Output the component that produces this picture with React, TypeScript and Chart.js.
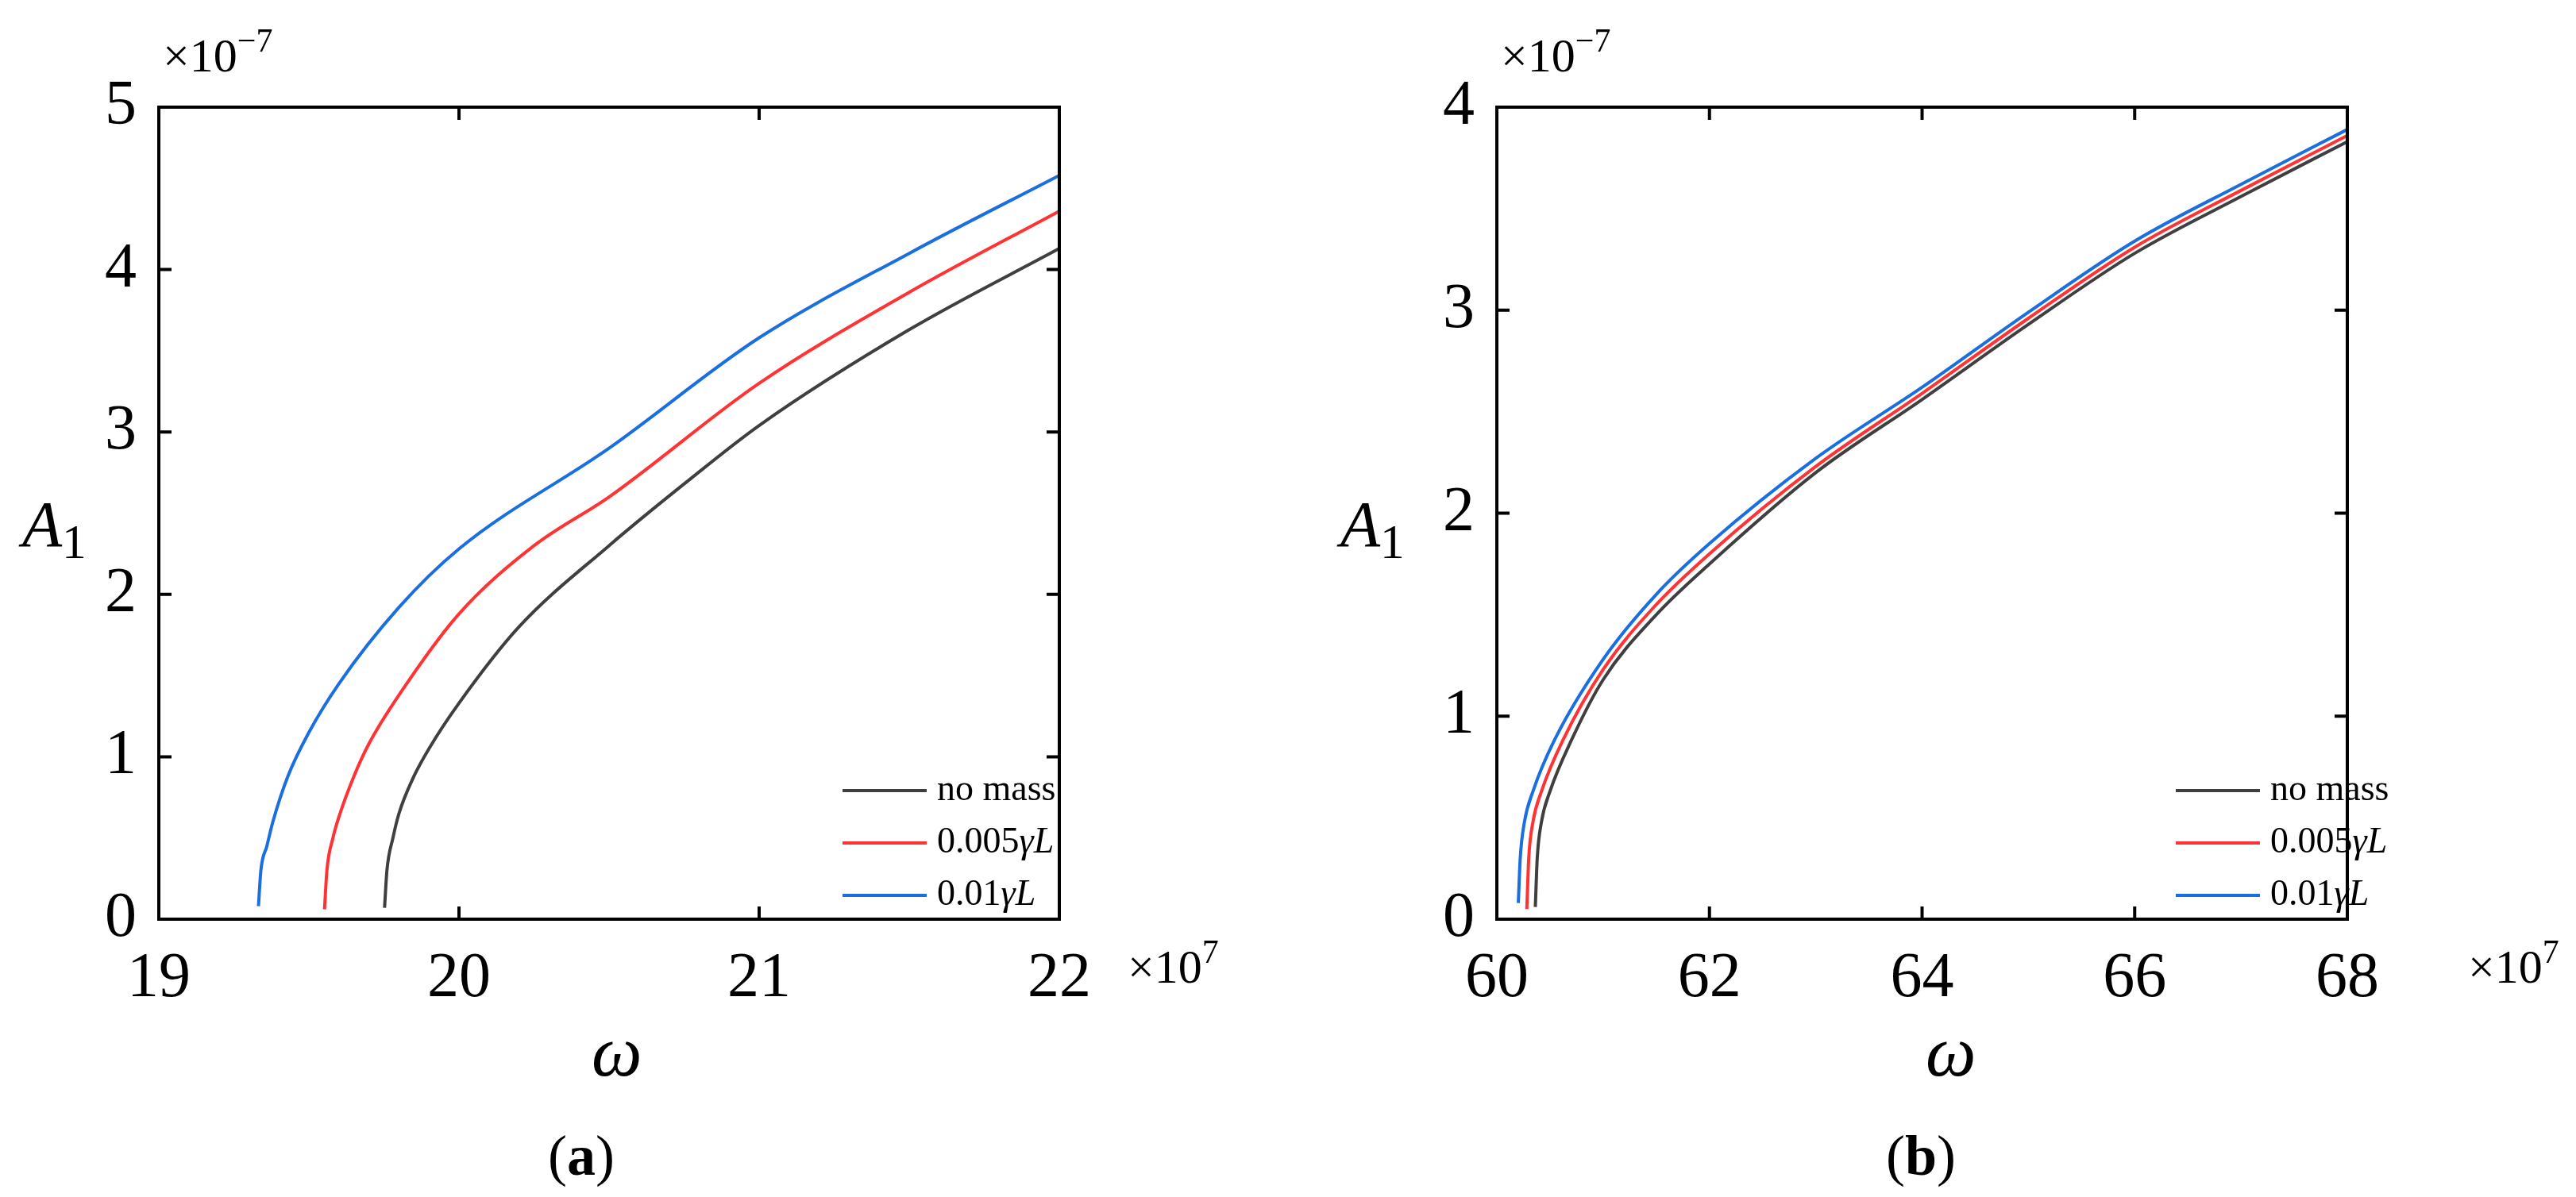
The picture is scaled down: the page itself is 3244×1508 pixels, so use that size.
import React, { useEffect, useRef } from "react";
import { Chart, registerables } from "chart.js";
Chart.register(...registerables);

const seriesNames = ["no mass", "0.005γL", "0.01γL"];
const colors = ["#3f3f3f", "#ff3333", "#1a6fe0"];

const aBlackX = [19.752, 19.76, 19.78, 19.8, 19.85, 19.9, 20, 20.2, 20.5, 20.75, 21, 21.5, 22];
const aBlackY = [0.07, 0.3, 0.5, 0.65, 0.88, 1.05, 1.33, 1.8, 2.3, 2.68, 3.04, 3.63, 4.13];
const aRedX = [19.552, 19.56, 19.58, 19.6, 19.65, 19.7, 19.8, 20, 20.25, 20.5, 21, 21.5, 22];
const aRedY = [0.06, 0.3, 0.5, 0.63, 0.88, 1.08, 1.38, 1.88, 2.3, 2.6, 3.3, 3.86, 4.36];
const aBlueX = [19.332, 19.34, 19.36, 19.38, 19.43, 19.5, 19.6, 19.8, 20, 20.5, 21, 21.5, 22];
const aBlueY = [0.08, 0.3, 0.45, 0.6, 0.88, 1.15, 1.45, 1.92, 2.28, 2.9, 3.58, 4.1, 4.58];

const bBlackX = [60.362, 60.38, 60.42, 60.5, 60.7, 61, 61.5, 62, 63, 64, 65, 66, 67, 68];
const bBlackY = [0.06, 0.3, 0.48, 0.63, 0.88, 1.18, 1.5, 1.75, 2.2, 2.56, 2.93, 3.28, 3.56, 3.83];
const bRedX = [60.282, 60.3, 60.34, 60.42, 60.62, 61, 61.5, 62, 63, 64, 65, 66, 67, 68];
const bRedY = [0.05, 0.3, 0.48, 0.63, 0.88, 1.23, 1.55, 1.8, 2.23, 2.59, 2.96, 3.31, 3.59, 3.86];
const bBlueX = [60.202, 60.22, 60.26, 60.34, 60.54, 61, 61.5, 62, 63, 64, 65, 66, 67, 68];
const bBlueY = [0.08, 0.3, 0.48, 0.63, 0.88, 1.28, 1.6, 1.85, 2.27, 2.62, 2.99, 3.34, 3.62, 3.89];

const FONT = "'Liberation Serif', 'Times New Roman', serif";

function zip(xs: number[], ys: number[]) {
  return xs.map((x, i) => ({ x, y: ys[i] }));
}

const framePlugin = {
  id: "frame",
  afterDatasetsDraw(chart: any) {
    const { ctx, chartArea: a, scales } = chart;
    ctx.save();
    ctx.strokeStyle = "#000";
    ctx.lineWidth = 4;
    ctx.strokeRect(a.left, a.top, a.right - a.left, a.bottom - a.top);
    const L = 16;
    ctx.beginPath();
    scales.x.ticks.forEach((t: any) => {
      const px = scales.x.getPixelForValue(t.value);
      ctx.moveTo(px, a.top); ctx.lineTo(px, a.top + L);
      ctx.moveTo(px, a.bottom); ctx.lineTo(px, a.bottom - L);
    });
    scales.y.ticks.forEach((t: any) => {
      const py = scales.y.getPixelForValue(t.value);
      ctx.moveTo(a.left, py); ctx.lineTo(a.left + L, py);
      ctx.moveTo(a.right, py); ctx.lineTo(a.right - L, py);
    });
    ctx.stroke();
    // legend
    const lg = chart.options.plugins.frame;
    ctx.font = `46px ${FONT}`;
    ctx.textBaseline = "middle";
    seriesNames.forEach((n, i) => {
      const y = lg.y0 + i * 66;
      ctx.strokeStyle = colors[i];
      ctx.lineWidth = 4;
      ctx.beginPath();
      ctx.moveTo(lg.x0, y); ctx.lineTo(lg.x0 + 106, y); ctx.stroke();
      ctx.fillStyle = "#000";
      const m = n.match(/^([0-9.]+)(γL)$/);
      if (m) {
        ctx.font = `46px ${FONT}`;
        ctx.fillText(m[1], lg.x0 + 119, y);
        const w = ctx.measureText(m[1]).width;
        ctx.font = `italic 46px ${FONT}`;
        ctx.fillText(m[2], lg.x0 + 119 + w, y);
      } else {
        ctx.font = `46px ${FONT}`;
        ctx.fillText(n, lg.x0 + 119, y);
      }
    });
    ctx.restore();
  },
};

function Panel(props: any) {
  const ref = useRef<HTMLCanvasElement>(null);
  useEffect(() => {
    const c = new Chart(ref.current!, {
      type: "scatter",
      data: {
        datasets: props.data.map((d: any, i: number) => ({
          data: d,
          showLine: true,
          borderColor: colors[i],
          borderWidth: 4,
          pointRadius: 0,
          cubicInterpolationMode: "monotone",
        })),
      },
      options: {
        animation: false,
        responsive: false,
        layout: { padding: { top: 135, right: 288, left: 0, bottom: 0 } },
        plugins: { legend: { display: false }, tooltip: { enabled: false }, frame: { x0: props.lx, y0: 996 } } as any,
        scales: {
          x: {
            type: "linear", min: props.xmin, max: props.xmax,
            ticks: { stepSize: props.xstep, font: { family: FONT, size: 80 }, color: "#000", padding: 20 },
            grid: { display: false }, border: { display: false },
            afterFit: (s: any) => { s.height = 350; },
          },
          y: {
            type: "linear", min: 0, max: props.ymax,
            ticks: { stepSize: 1, font: { family: FONT, size: 80 }, color: "#000", padding: 20 },
            grid: { display: false }, border: { display: false },
            afterFit: (s: any) => { s.width = props.yw; },
          },
        },
      },
      plugins: [framePlugin],
    } as any);
    return () => c.destroy();
  }, []);
  return <canvas ref={ref} width={props.w} height={1508} style={{ position: "absolute", left: props.left, top: 0, width: props.w, height: 1508 }} />;
}

const txt = (left: number, top: number, content: any, size: number, extra: any = {}) => (
  <div style={{ position: "absolute", left, top, fontFamily: FONT, fontSize: size, lineHeight: 1, whiteSpace: "nowrap", color: "#000", ...extra }}>{content}</div>
);

export default function App() {
  const ex7 = <span>×10<sup style={{ fontSize: "0.7em", verticalAlign: "0.6em" }}>−7</sup></span>;
  const e7 = <span>×10<sup style={{ fontSize: "0.7em", verticalAlign: "0.6em" }}>7</sup></span>;
  const A1 = <span><i>A</i><span style={{ fontSize: "0.75em", position: "relative", top: "0.25em" }}>1</span></span>;
  return (
    <div style={{ position: "absolute", left: 0, top: 0, width: 3244, height: 1508, background: "#fff", overflow: "hidden" }}>
      <Panel left={0} w={1622} yw={200} lx={1061} xmin={19} xmax={22} xstep={1} ymax={5}
        data={[zip(aBlackX, aBlackY), zip(aRedX, aRedY), zip(aBlueX, aBlueY)]} />
      <Panel left={1650} w={1594} yw={235} lx={1090} xmin={60} xmax={68} xstep={2} ymax={4}
        data={[zip(bBlackX, bBlackY), zip(bRedX, bRedY), zip(bBlueX, bBlueY)]} />
      {txt(205, 30, ex7, 60)}
      {txt(1420, 1178, e7, 60)}
      {txt(28, 620, A1, 82)}
      {txt(745, 1280, <i>ω</i>, 90)}
      {txt(690, 1420, <span>(<b>a</b>)</span>, 72)}
      {txt(1890, 30, ex7, 60)}
      {txt(3108, 1178, e7, 60)}
      {txt(1688, 620, A1, 82)}
      {txt(2425, 1280, <i>ω</i>, 90)}
      {txt(2375, 1420, <span>(<b>b</b>)</span>, 72)}
    </div>
  );
}
